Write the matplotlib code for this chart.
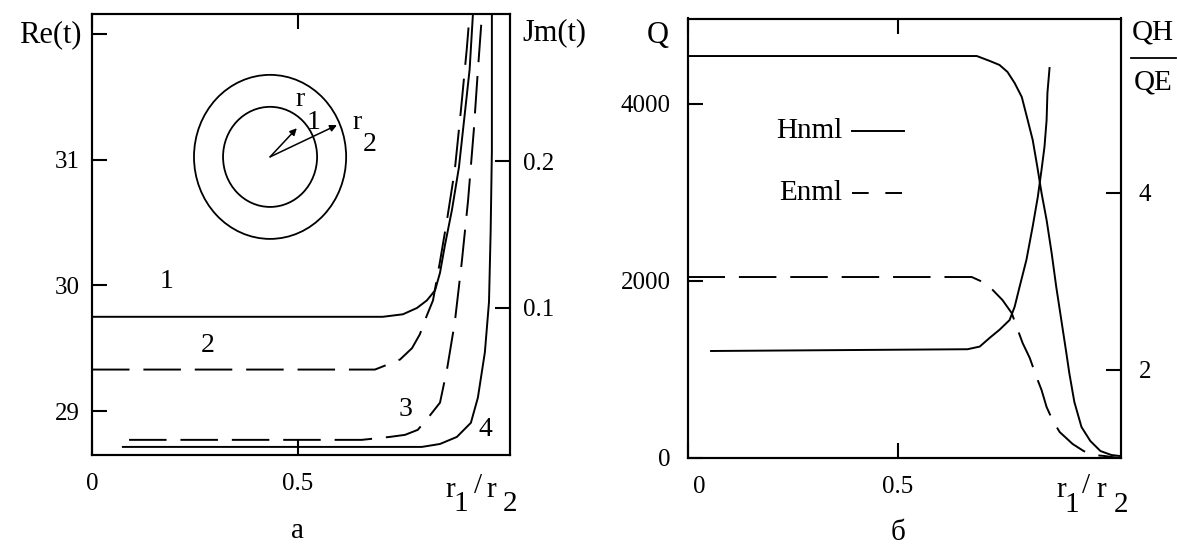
import numpy as np
import matplotlib
matplotlib.use('Agg')
import matplotlib.pyplot as plt
from matplotlib.patches import Ellipse
from matplotlib.transforms import ScaledTranslation

plt.rcParams['font.family'] = ['Liberation Serif', 'DejaVu Serif']
plt.rcParams['lines.scale_dashes'] = False

# ---- panel a : curves 1,2 on Re(t), curves 3,4 on Jm(t)
x1 = [0, 0.706, 0.755, 0.789, 0.813, 0.833, 0.845, 0.857, 0.874, 0.891, 0.903, 0.917, 0.925]
re1 = [29.75, 29.75, 29.77, 29.82, 29.88, 29.96, 30.10, 30.32, 30.60, 30.94, 31.30, 31.72, 32.16]
x2 = [0, 0.687, 0.718, 0.748, 0.777, 0.796, 0.813, 0.828, 0.845, 0.862, 0.881, 0.896, 0.910, 0.917]
re2 = [29.33, 29.33, 29.37, 29.41, 29.50, 29.61, 29.76, 29.88, 30.19, 30.52, 30.92, 31.40, 31.88, 32.16]
x3 = [0.090, 0.655, 0.723, 0.760, 0.791, 0.820, 0.845, 0.862, 0.881, 0.898, 0.913, 0.927, 0.937, 0.947]
jm3 = [0.0103, 0.0103, 0.0123, 0.0137, 0.0171, 0.0267, 0.0356, 0.0582, 0.0904, 0.1315, 0.1726, 0.2205, 0.2616, 0.30]
x4 = [0.075, 0.801, 0.845, 0.886, 0.920, 0.937, 0.954, 0.964, 0.968, 0.971, 0.971]
jm4 = [0.0055, 0.0055, 0.0075, 0.0123, 0.0219, 0.0390, 0.0699, 0.1041, 0.152, 0.2068, 0.30]

re_ticks = [29, 30, 31]
jm_ticks = [0.1, 0.2]

# ---- panel б : Q (Hnml, Enml) and QH/QE
xh = [0, 0.688, 0.719, 0.742, 0.761, 0.778, 0.795, 0.809, 0.821, 0.832, 0.842, 0.854, 0.866,
      0.877, 0.889, 0.901, 0.908, 0.920, 0.937, 0.958, 0.982, 1.008, 1.027]
qh = [4542, 4542, 4486, 4441, 4362, 4237, 4079, 3819, 3593, 3288, 2994, 2689, 2316,
      1932, 1559, 1186, 960, 633, 350, 192, 79, 34, 23]
xe = [0, 0.676, 0.702, 0.726, 0.749, 0.771, 0.783, 0.797, 0.814, 0.830, 0.842, 0.854,
      0.868, 0.885, 0.916, 0.942, 0.965, 0.991, 1.027]
qe = [2045, 2045, 1989, 1898, 1785, 1638, 1480, 1299, 1130, 915, 768, 576,
      429, 294, 158, 79, 34, 23, 0]
xr = [0.056, 0.666, 0.695, 0.719, 0.742, 0.766, 0.778, 0.790, 0.806, 0.821, 0.833,
      0.842, 0.849, 0.854, 0.856, 0.861]
ratio = [2.21, 2.23, 2.26, 2.36, 2.45, 2.56, 2.71, 2.94, 3.24, 3.62, 3.95,
         4.26, 4.52, 4.82, 5.13, 5.41]

q_ticks = [2000, 4000]
r_ticks = [2, 4]
legend_names = ['Hnml', 'Enml']

W, H = 1177, 548
fig = plt.figure(figsize=(W / 100, H / 100), dpi=100)

LW = 1.4
DASH = (0, (27, 10))
TS = 18


def px(x, y):
    return x / W, 1 - y / H


def style(ax, axr):
    for a in (ax, axr):
        for s in a.spines.values():
            s.set_linewidth(1.5)
    ax.tick_params(axis='y', direction='in', length=11, width=1.5, labelsize=TS, pad=9,
                   left=True, right=False)
    ax.tick_params(axis='x', direction='in', length=11, width=1.5, labelsize=TS, pad=13,
                   top=True, bottom=True)
    axr.tick_params(axis='y', direction='in', length=11, width=1.5, labelsize=TS, pad=9)


# ================= panel a
ax = fig.add_axes([92 / W, 1 - 455 / H, (510 - 92) / W, (455 - 14) / H])
axr = ax.twinx()
ax.plot(x1, re1, 'k-', lw=LW)
ax.plot(x2, re2, 'k', lw=LW, linestyle=DASH)
axr.plot(x3, jm3, 'k', lw=LW, linestyle=DASH)
axr.plot(x4, jm4, 'k-', lw=LW)
ax.set_xlim(0, 1.015)
ax.set_ylim(28.65, 32.16)
axr.set_ylim(0, 0.3)
ax.set_xticks([0, 0.5])
ax.set_xticklabels(['0', '0.5'])
ax.set_yticks(re_ticks + [32])
ax.set_yticklabels([str(t) for t in re_ticks] + [''])
axr.set_yticks(jm_ticks)
axr.set_yticklabels([str(t) for t in jm_ticks])
style(ax, axr)

ax.text(0.18, 29.93, '1', fontsize=20, ha='center', va='bottom')
ax.text(0.28, 29.52, '2', fontsize=20, ha='center', va='center')
axr.text(0.762, 0.031, '3', fontsize=20, ha='center', va='center')
axr.text(0.954, 0.0171, '4', fontsize=20, ha='center', va='center')

# inset sketch of the two circles
for w, h in [(0.364, 0.372), (0.225, 0.227)]:
    ax.add_patch(Ellipse((0.426, 0.676), w, h, transform=ax.transAxes,
                         fill=False, lw=1.3, ec='k'))
for tip in [(0.490, 0.741), (0.586, 0.748)]:
    ax.annotate('', xy=tip, xytext=(0.426, 0.676), xycoords='axes fraction',
                arrowprops=dict(arrowstyle='-|>', lw=1.1, color='k',
                                mutation_scale=10, shrinkA=0, shrinkB=0))
ax.text(0.498, 0.805, 'r', transform=ax.transAxes, fontsize=20, ha='center', va='center')
ax.text(0.529, 0.755, '1', transform=ax.transAxes, fontsize=20, ha='center', va='center')
ax.text(0.634, 0.753, 'r', transform=ax.transAxes, fontsize=20, ha='center', va='center')
ax.text(0.665, 0.703, '2', transform=ax.transAxes, fontsize=20, ha='center', va='center')

fig.text(*px(82, 35), 'Re(t)', fontsize=22, ha='right', va='center')
fig.text(*px(522, 33), 'Jm(t)', fontsize=22, ha='left', va='center')
for sx, s, dx in [(450, 'r', 0), (461, '1', 14), (478, '/', -4), (491, 'r', 0), (510, '2', 14)]:
    fig.text(*px(sx, 490 + dx), s, fontsize=21, ha='center', va='center')
fig.text(*px(298, 531), 'а', fontsize=21, ha='center', va='center')

# ================= panel б
bx = fig.add_axes([687.5 / W, 1 - 458 / H, (1120.6 - 687.5) / W, (458 - 18.5) / H])
bxr = bx.twinx()
bx.plot(xh, qh, 'k-', lw=LW)
bx.plot(xe, qe, 'k', lw=LW, linestyle=DASH)
bxr.plot(xr, ratio, 'k-', lw=LW)
bx.set_xlim(0, 1.03)
bx.set_ylim(0, 4966)
bxr.set_ylim(1.0, 5.97)
bx.set_xticks([0, 0.5])
bx.set_xticklabels(['0', '0.5'])
bx.set_yticks([0] + q_ticks)
bx.set_yticklabels(['0'] + [str(t) for t in q_ticks])
bxr.set_yticks(r_ticks)
bxr.set_yticklabels([str(t) for t in r_ticks])
style(bx, bxr)
bx.tick_params(axis='y', pad=12)
bxr.tick_params(axis='y', pad=13)
lbl0 = bx.get_xticklabels()[0]
lbl0.set_transform(lbl0.get_transform() + ScaledTranslation(0.12, 0, fig.dpi_scale_trans))

# legend drawn inside the plot
bx.text(0.369, 3695, legend_names[0], fontsize=21, ha='right', va='center')
bx.text(0.369, 2994, legend_names[1], fontsize=21, ha='right', va='center')
bx.plot([0.391, 0.514], [3695, 3695], 'k-', lw=LW)
bx.plot([0.391, 0.514], [2994, 2994], 'k', lw=LW, linestyle=(0, (12, 12)))

fig.text(*px(658, 35), 'Q', fontsize=22, ha='center', va='center')
fig.text(*px(1153, 33), 'QH', fontsize=21, ha='center', va='center')
fig.text(*px(1153, 82), 'QE', fontsize=21, ha='center', va='center')
fig.add_artist(plt.Line2D([1131 / W, 1176 / W], [1 - 58 / H, 1 - 58 / H], color='k', lw=1.3))
for sx, s, dx in [(1061, 'r', 0), (1072, '1', 15), (1086, '/', -4), (1101, 'r', 0), (1121, '2', 15)]:
    fig.text(*px(sx, 490 + dx), s, fontsize=21, ha='center', va='center')
fig.text(*px(898, 533), 'б', fontsize=21, ha='center', va='center')

fig.savefig('out.png', dpi=100, facecolor='white')
